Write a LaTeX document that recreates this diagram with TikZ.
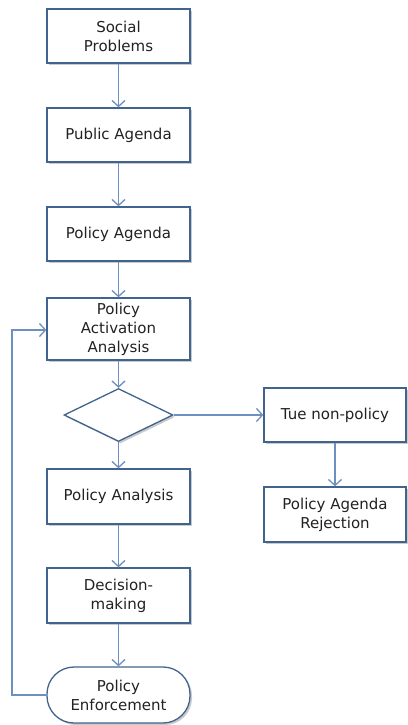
\documentclass[tikz,border=0pt]{standalone}
\usepackage{fontspec}
\setmainfont{DejaVu Sans}
\usetikzlibrary{shapes.geometric,shadows,arrows.meta}
\definecolor{boxline}{HTML}{41648E}
\definecolor{arrowc}{HTML}{6C90C2}
\definecolor{txt}{HTML}{222222}
\tikzset{
  base/.style={draw=boxline, line width=1.3pt, fill=white, text=txt,
    font=\fontsize{15}{19}\selectfont, align=center, inner sep=0pt,
    drop shadow={shadow xshift=2pt, shadow yshift=-2pt, opacity=0.35, fill=black!60}},
  procbox/.style={base, rectangle, minimum width=143pt, minimum height=54pt},
  termbox/.style={base, rectangle, rounded corners=27pt, minimum width=143pt, minimum height=56pt},
  decbox/.style={base, diamond, minimum width=109pt, minimum height=53pt},
  conn/.style={draw=arrowc, line width=1.5pt, -{Straight Barb[length=6pt,width=13pt,line width=1.3pt]}}
}
\begin{document}
\begin{tikzpicture}[x=1pt,y=1pt]
\useasboundingbox (0,0) rectangle (407,-725);
\node[procbox] (sp) at (118.5,-36) {Social\\Problems};
\node[procbox] (pa) at (118.5,-135) {Public Agenda};
\node[procbox] (pol) at (118.5,-234) {Policy Agenda};
\node[procbox, minimum height=62pt] (act) at (118.5,-329) {Policy\\Activation\\Analysis};
\node[decbox] (dia) at (118.5,-415) {};
\node[procbox, minimum height=55pt] (pan) at (118.5,-496.5) {Policy Analysis};
\node[procbox, minimum height=55pt] (dm) at (118.5,-595.5) {Decision-\\making};
\node[termbox] (enf) at (118.5,-695) {Policy\\Enforcement};
\node[procbox, minimum width=142pt] (tue) at (335,-415) {Tue non-policy};
\node[procbox, minimum width=142pt, minimum height=55pt] (rej) at (335,-514.5) {Policy Agenda\\Rejection};
\coordinate (lb) at (12,-695);
\coordinate (lt) at (12,-330);
\draw[conn] (sp) -- (pa);
\draw[conn] (pa) -- (pol);
\draw[conn] (pol) -- (act);
\draw[conn] (act) -- (dia);
\draw[conn] (dia) -- (pan);
\draw[conn] (pan) -- (dm);
\draw[conn] (dm) -- (enf);
\draw[conn] (dia) -- (tue);
\draw[conn] (tue) -- (rej);
\draw[conn] (enf.west) -- (lb) -- (lt) -- (act.west |- lt);
\end{tikzpicture}
\end{document}
